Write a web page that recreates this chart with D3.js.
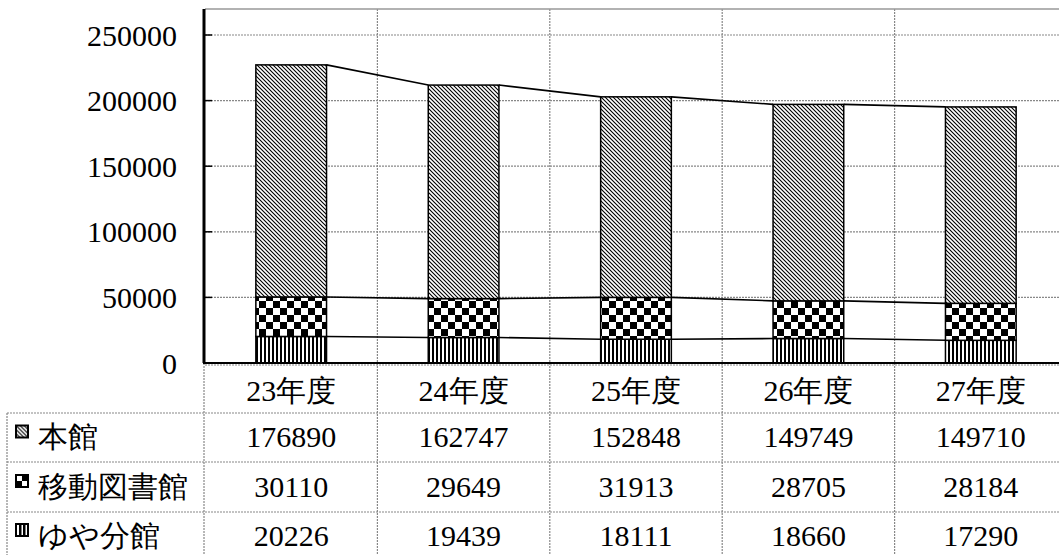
<!DOCTYPE html>
<html>
<head>
<meta charset="utf-8">
<script src="https://cdn.jsdelivr.net/npm/d3@7"></script>
<style>
  body { margin: 0; background: #fff; }
  svg text { font-family: "Times New Roman", "Liberation Serif", "DejaVu Serif", serif; }
</style>
</head>
<body>
<svg id="chart"></svg>
<script>
// Data
const years = ["23年度", "24年度", "25年度", "26年度", "27年度"];
const honkan = [176890, 162747, 152848, 149749, 149710];
const idou = [30110, 29649, 31913, 28705, 28184];
const yuya = [20226, 19439, 18111, 18660, 17290];
const yTicks = [0, 50000, 100000, 150000, 200000, 250000];

// stacked bottom -> top
const seriesNames = ["ゆや分館", "移動図書館", "本館"];
const seriesValues = [yuya, idou, honkan];
const seriesFill = ["url(#vstripe)", "url(#checker)", "url(#diag)"];
// table order top -> bottom
const tableRows = [
  { name: "本館", values: honkan, key: "diag" },
  { name: "移動図書館", values: idou, key: "quad" },
  { name: "ゆや分館", values: yuya, key: "bars" }
];

const width = 1059, height = 555;
const plotLeft = 205, plotRight = 1067, plotTop = 9, zeroY = 363;
const rowY = [363, 413, 462, 512, 570];
const tableLeft = 7;

const svg = d3.select("#chart").attr("width", width).attr("height", height);

// Patterns
const defs = svg.append("defs");
const pDiag = defs.append("pattern").attr("id", "diag")
  .attr("patternUnits", "userSpaceOnUse").attr("width", 4).attr("height", 4);
pDiag.append("rect").attr("width", 4).attr("height", 4).attr("fill", "#fff");
pDiag.append("path").attr("d", "M0,0 L4,4 M-1,3 L1,5 M3,-1 L5,1")
  .attr("stroke", "#000").attr("stroke-width", 1.1);

const pCheck = defs.append("pattern").attr("id", "checker")
  .attr("patternUnits", "userSpaceOnUse").attr("width", 14).attr("height", 14);
pCheck.append("rect").attr("width", 14).attr("height", 14).attr("fill", "#fff");
pCheck.append("rect").attr("x", 0).attr("y", 0).attr("width", 7).attr("height", 7).attr("fill", "#000");
pCheck.append("rect").attr("x", 7).attr("y", 7).attr("width", 7).attr("height", 7).attr("fill", "#000");

const pStripe = defs.append("pattern").attr("id", "vstripe")
  .attr("patternUnits", "userSpaceOnUse").attr("width", 4).attr("height", 4);
pStripe.append("rect").attr("width", 4).attr("height", 4).attr("fill", "#fff");
pStripe.append("rect").attr("width", 2).attr("height", 4).attr("fill", "#000");

// Scales
const x = d3.scaleBand().domain(years).range([plotLeft, plotRight])
  .paddingInner(0.59).paddingOuter(0.295);
const step = x.step();
const y = d3.scaleLinear().domain([0, 250000]).range([zeroY, 35]);

// Grid
const grid = svg.append("g").attr("stroke", "#888").attr("stroke-width", 1.2)
  .attr("stroke-dasharray", "2,1");
grid.selectAll("line.h").data(yTicks.filter(d => d > 0)).enter().append("line")
  .attr("x1", plotLeft).attr("x2", width).attr("y1", d => y(d)).attr("y2", d => y(d));
grid.selectAll("line.v").data(years.slice(1)).enter().append("line")
  .attr("x1", d => x(d) - step * 0.295).attr("x2", d => x(d) - step * 0.295)
  .attr("y1", plotTop).attr("y2", height);
// table lines
grid.append("line").attr("x1", plotLeft).attr("x2", width).attr("y1", rowY[0] + 2).attr("y2", rowY[0] + 2);
grid.selectAll("line.r").data(rowY.slice(1, 4)).enter().append("line")
  .attr("x1", tableLeft).attr("x2", width).attr("y1", d => d).attr("y2", d => d);
grid.append("line").attr("x1", tableLeft).attr("x2", tableLeft).attr("y1", rowY[1]).attr("y2", height);
grid.append("line").attr("x1", plotLeft - 1).attr("x2", plotLeft - 1).attr("y1", rowY[0]).attr("y2", height);

// plot top border
svg.append("line").attr("x1", plotLeft).attr("x2", width).attr("y1", plotTop).attr("y2", plotTop)
  .attr("stroke", "#999").attr("stroke-width", 1.5);

// Bars
const stacked = years.map((yr, i) => {
  let acc = 0;
  return seriesValues.map((vals, s) => {
    const y0 = acc; acc += vals[i];
    return { yr, s, y0, y1: acc };
  });
});

const bars = svg.append("g");
stacked.forEach(col => {
  bars.selectAll(null).data(col).enter().append("rect")
    .attr("x", d => x(d.yr))
    .attr("y", d => y(d.y1))
    .attr("width", x.bandwidth())
    .attr("height", d => y(d.y0) - y(d.y1))
    .attr("fill", d => seriesFill[d.s])
    .attr("stroke", "#000").attr("stroke-width", 1.5);
});

// Series lines
const sl = svg.append("g").attr("stroke", "#000").attr("stroke-width", 1.6);
for (let s = 0; s < 3; s++) {
  for (let i = 0; i < years.length - 1; i++) {
    const a = stacked[i][s], b = stacked[i + 1][s];
    sl.append("line")
      .attr("x1", x(a.yr) + x.bandwidth()).attr("y1", y(a.y1))
      .attr("x2", x(b.yr)).attr("y2", y(b.y1));
  }
}

// Axis
svg.append("line").attr("x1", plotLeft - 1).attr("x2", plotLeft - 1).attr("y1", plotTop).attr("y2", zeroY)
  .attr("stroke", "#000").attr("stroke-width", 3);
svg.append("line").attr("x1", plotLeft - 2).attr("x2", width).attr("y1", zeroY).attr("y2", zeroY)
  .attr("stroke", "#000").attr("stroke-width", 2);
svg.selectAll("line.tick").data(yTicks).enter().append("line")
  .attr("x1", plotLeft).attr("x2", plotLeft + 7).attr("y1", d => y(d)).attr("y2", d => y(d))
  .attr("stroke", "#000").attr("stroke-width", 1.5);
svg.selectAll("text.ytick").data(yTicks).enter().append("text")
  .attr("x", 177).attr("y", d => y(d)).attr("dy", "0.35em")
  .attr("text-anchor", "end").attr("font-size", 30)
  .text(d => d);

// Category header
svg.selectAll("text.cat").data(years).enter().append("text")
  .attr("x", d => x(d) + x.bandwidth() / 2).attr("y", 390).attr("dy", "0.35em")
  .attr("text-anchor", "middle").attr("font-size", 30)
  .text(d => d);

// Table rows
tableRows.forEach((row, r) => {
  const cy = (rowY[r + 1] + Math.min(rowY[r + 2], 560)) / 2 - 1;
  const g = svg.append("g");
  // legend key
  const k = g.append("g").attr("transform", `translate(16,${cy - 11})`);
  if (row.key === "diag") {
    k.append("rect").attr("width", 12).attr("height", 12).attr("fill", "url(#diag)");
  } else if (row.key === "quad") {
    k.append("rect").attr("width", 12).attr("height", 12).attr("fill", "#fff");
    k.append("rect").attr("width", 6).attr("height", 6).attr("y", 6).attr("fill", "#000");
    k.append("rect").attr("width", 6).attr("height", 6).attr("x", 6).attr("fill", "#000");
  } else {
    k.append("rect").attr("width", 12).attr("height", 12).attr("fill", "#fff");
    k.append("rect").attr("x", 3).attr("width", 2.5).attr("height", 12).attr("fill", "#000");
    k.append("rect").attr("x", 7).attr("width", 2.5).attr("height", 12).attr("fill", "#000");
  }
  k.append("rect").attr("width", 12).attr("height", 12).attr("fill", "none")
    .attr("stroke", "#000").attr("stroke-width", 2);
  g.append("text").attr("x", 38).attr("y", cy).attr("dy", "0.35em")
    .attr("font-size", 30).text(row.name);
  g.selectAll("text.v").data(row.values).enter().append("text")
    .attr("x", (d, i) => x(years[i]) + x.bandwidth() / 2).attr("y", cy).attr("dy", "0.35em")
    .attr("text-anchor", "middle").attr("font-size", 30)
    .text(d => d);
});
</script>
</body>
</html>
